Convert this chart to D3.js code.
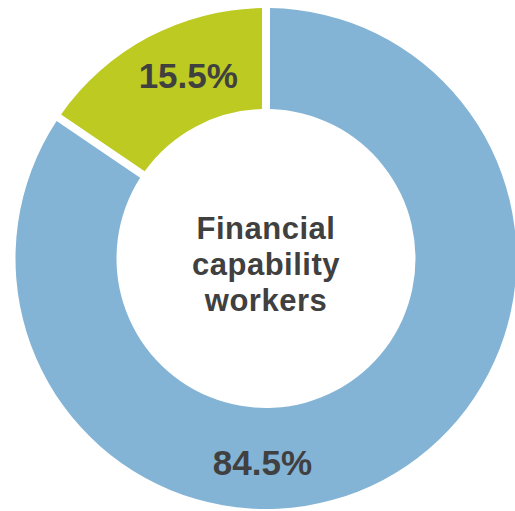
<!DOCTYPE html>
<html><head><meta charset="utf-8">
<script src="https://cdn.jsdelivr.net/npm/d3@7"></script>
<style>html,body{margin:0;padding:0;background:#fff;}svg{display:block;}</style>
</head><body>
<svg id="chart" width="515" height="511"></svg>
<script>
const categories = ["Other", "Financial capability workers"];
const values = [84.5, 15.5];
const labels = ["84.5%", "15.5%"];
const colors = ["#84b4d5", "#bcca22"];
const centerLines = ["Financial", "capability", "workers"];

const svg = d3.select("#chart");
const cx = 266, cy = 258.5, outerR = 250.5, innerR = 149.5;
const g = svg.append("g").attr("transform", `translate(${cx},${cy})`);

const pie = d3.pie().sort(null).value(d => d)(values);
const arc = d3.arc().innerRadius(innerR).outerRadius(outerR).padRadius(200).padAngle(8/200);

g.selectAll("path.slice").data(pie).join("path")
  .attr("class", "slice")
  .attr("d", arc)
  .attr("fill", (d, i) => colors[i]);

// label placement (angle in degrees, radius)
const labelPos = [{a: 181, r: 204}, {a: -23, r: 199}];
g.selectAll("text.lbl").data(pie).join("text")
  .attr("class", "lbl")
  .attr("x", (d, i) => labelPos[i].r * Math.sin(labelPos[i].a * Math.PI / 180))
  .attr("y", (d, i) => -labelPos[i].r * Math.cos(labelPos[i].a * Math.PI / 180))
  .attr("dy", "0.36em")
  .attr("text-anchor", "middle")
  .attr("font-family", "Liberation Sans, Arial, sans-serif")
  .attr("font-weight", "bold")
  .attr("font-size", 35)
  .attr("fill", "#404040")
  .text((d, i) => labels[i]);

g.selectAll("text.center").data(centerLines).join("text")
  .attr("class", "center")
  .attr("x", 0)
  .attr("y", (d, i) => -20 + i * 36)
  .attr("text-anchor", "middle")
  .attr("font-family", "Liberation Sans, Arial, sans-serif")
  .attr("font-weight", "bold")
  .attr("font-size", 31)
  .attr("letter-spacing", 0.5)
  .attr("fill", "#404040")
  .text(d => d);
</script>
</body></html>
